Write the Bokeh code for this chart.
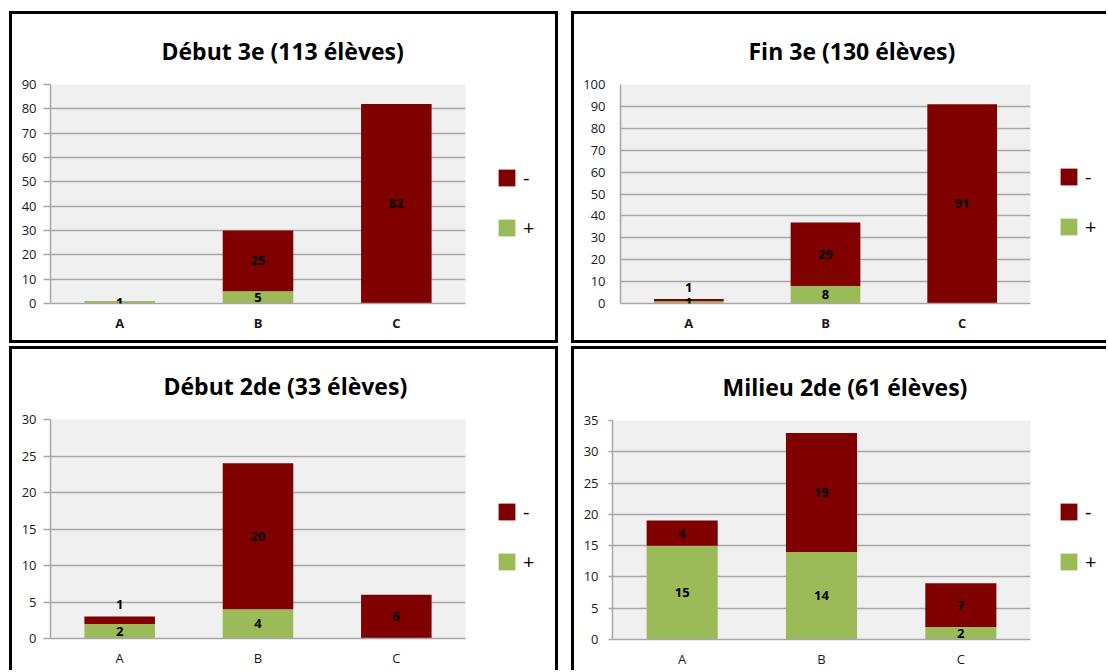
from bokeh.plotting import figure
from bokeh.models import (ColumnDataSource, Range1d, Legend, LegendItem, Title,
                          LabelSet, FixedTicker)
from bokeh.layouts import column, row
from bokeh.core.properties import value
from bokeh.embed import file_html
from bokeh.resources import INLINE

# ---------------- data ----------------
categories = ["A", "B", "C"]
titles = ["Début 3e (113 élèves)", "Fin 3e (130 élèves)",
          "Début 2de (33 élèves)", "Milieu 2de (61 élèves)"]
legend_labels = ["-", "+"]

plus_debut3e = [1, 5, 0]
minus_debut3e = [0, 25, 82]
plus_fin3e = [1, 8, 0]
minus_fin3e = [1, 29, 91]
plus_debut2de = [2, 4, 0]
minus_debut2de = [1, 20, 6]
plus_milieu2de = [15, 14, 2]
minus_milieu2de = [4, 19, 7]

y_max = [90, 100, 30, 35]
y_step = [10, 10, 5, 5]

# ---------------- style ----------------
RED = "#800000"
GREEN = "#9BBB59"
GRID = "#A6A6A6"
BG = "#F0F0F0"
FONT = "Open Sans"
B = "3px solid black"

# main chart box + legend box for each panel
panels = [
    dict(w=466, h=332, l=38, r=13, t=69, b=43, tick=7, so=7, bold=True, toff=111,
         css={"border-left": B, "border-top": B, "border-bottom": B},
         lw=83, ly=62.5, lcss={"border-right": B, "border-top": B, "border-bottom": B}),
    dict(w=466, h=332, l=46, r=10, t=69, b=43, tick=0, so=15, bold=True, toff=128,
         css={"border-left": B, "border-top": B, "border-bottom": B},
         lw=69, ly=63.5, lcss={"border-top": B, "border-bottom": B}),
    dict(w=466, h=324, l=38, r=13, t=70, b=35, tick=7, so=7, bold=False, toff=113,
         css={"border-left": B, "border-top": B},
         lw=83, ly=63.5, lcss={"border-right": B, "border-top": B}),
    dict(w=466, h=324, l=38, r=10, t=71, b=34, tick=4, so=10, bold=False, toff=110,
         css={"border-left": B, "border-top": B},
         lw=69, ly=64.5, lcss={"border-top": B}),
]

series = [(plus_debut3e, minus_debut3e), (plus_fin3e, minus_fin3e),
          (plus_debut2de, minus_debut2de), (plus_milieu2de, minus_milieu2de)]


def make_panel(i):
    cfg = panels[i]
    plus, minus = series[i]
    ymax = y_max[i]
    fh = cfg["h"] - cfg["t"] - cfg["b"]
    p = figure(x_range=categories, y_range=Range1d(0, ymax),
               width=cfg["w"], height=cfg["h"], output_backend="svg",
               toolbar_location=None, min_border_left=cfg["l"],
               min_border_right=cfg["r"], min_border_top=cfg["t"],
               min_border_bottom=cfg["b"], background_fill_color=BG,
               border_fill_color="white", outline_line_color=None,
               styles=cfg["css"])
    src = ColumnDataSource(dict(cat=categories, plus=plus, minus=minus))
    p.vbar_stack(["plus", "minus"], x="cat", width=0.51,
                 fill_color=[GREEN, RED], line_color=None, source=src)

    # axes / grid
    p.yaxis.ticker = FixedTicker(ticks=list(range(0, ymax + 1, y_step[i])))
    p.yaxis.axis_line_color = GRID
    p.yaxis.axis_line_width = 1.5
    p.yaxis.major_tick_line_color = GRID
    p.yaxis.major_tick_line_width = 1.5
    p.yaxis.major_tick_out = cfg["tick"]
    p.yaxis.major_tick_in = 0
    p.yaxis.minor_tick_line_color = None
    p.yaxis.major_label_standoff = cfg["so"]
    p.yaxis.major_label_text_font = FONT
    p.yaxis.major_label_text_font_size = "13px"
    p.yaxis.major_label_text_color = "#1a1a1a"
    p.xaxis.axis_line_color = GRID
    p.xaxis.axis_line_width = 1.5
    p.xaxis.major_tick_line_color = None
    p.xaxis.minor_tick_line_color = None
    p.xaxis.major_label_standoff = 4
    p.xaxis.major_label_text_font = FONT
    p.xaxis.major_label_text_font_size = "13px"
    p.xaxis.major_label_text_color = "#1a1a1a"
    p.xaxis.major_label_text_font_style = "bold" if cfg["bold"] else "normal"
    p.xgrid.grid_line_color = None
    p.ygrid.grid_line_color = GRID
    p.ygrid.grid_line_width = 1.5

    # data labels (segment centres; a tiny top segment is lifted above the bar)
    px_per_unit = fh / ymax
    cats, ys, texts, offs = [], [], [], []
    for c, pv, mv in zip(categories, plus, minus):
        if pv > 0:
            cats.append(c); ys.append(pv / 2); texts.append(str(pv)); offs.append(0)
        if mv > 0:
            cats.append(c)
            texts.append(str(mv))
            if mv * px_per_unit < 12 and pv > 0:
                ys.append(pv + mv); offs.append(12)
            else:
                ys.append(pv + mv / 2); offs.append(0)
    lsrc = ColumnDataSource(dict(cat=cats, y=ys, text=texts, off=offs))
    p.add_layout(LabelSet(x="cat", y="y", text="text", y_offset="off", source=lsrc,
                          text_align="center", text_baseline="middle",
                          text_font=value(FONT), text_font_size="13px",
                          text_font_style="bold", text_color="black"))

    # title, centred on the whole box
    p.add_layout(Title(text=titles[i], align="left", offset=cfg["toff"],
                       standoff=36, text_font=FONT, text_font_size="23px",
                       text_font_style="bold", text_color="black"), "above")

    # legend box to the right of the chart (frames of a row are aligned)
    q = figure(width=cfg["lw"], height=cfg["h"], x_range=Range1d(0, 1),
               y_range=Range1d(0, 1), x_axis_location=None, y_axis_location=None,
               output_backend="svg", toolbar_location=None,
               min_border_left=0, min_border_top=cfg["t"], min_border_right=0,
               min_border_bottom=cfg["b"], outline_line_color=None,
               background_fill_color="white", border_fill_color="white",
               styles=cfg["lcss"])
    q.grid.grid_line_color = None
    # zero-size key glyphs: they only provide the legend swatches
    key_minus = q.vbar(x=[0], top=[0], bottom=[0], width=0, fill_color=RED,
                       line_color=None)
    key_plus = q.vbar(x=[0], top=[0], bottom=[0], width=0, fill_color=GREEN,
                      line_color=None)
    leg = Legend(items=[LegendItem(label=legend_labels[0], renderers=[key_minus]),
                        LegendItem(label=legend_labels[1], renderers=[key_plus])],
                 location=(21, cfg["ly"]), orientation="vertical",
                 padding=0, margin=0, spacing=23,
                 border_line_color=None, background_fill_alpha=0,
                 glyph_width=21, glyph_height=21, label_height=17,
                 label_standoff=6, label_text_font=FONT,
                 label_text_font_size="20px", label_text_color="black")
    q.add_layout(leg)
    return row(p, q, spacing=0)


boxes = [make_panel(i) for i in range(4)]
layout = column(row(boxes[0], boxes[1], spacing=13),
                row(boxes[2], boxes[3], spacing=13),
                spacing=3, margin=(11, 0, 0, 9))

open("out.html", "w").write(file_html(layout, INLINE))
